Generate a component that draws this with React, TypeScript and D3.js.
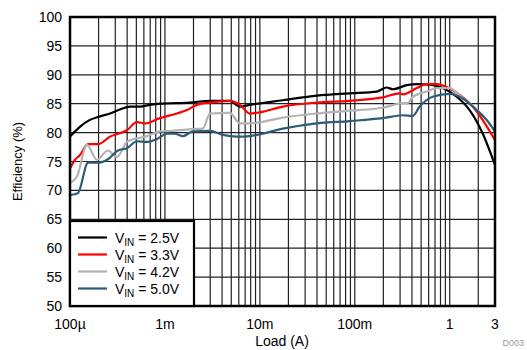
import React from "react";
import * as d3 from "d3";

const load25 = [1e-4, 1.27e-4, 1.62e-4, 2.07e-4, 2.64e-4, 3.36e-4, 4.28e-4, 5.46e-4, 6.95e-4, 8.86e-4, 1.83e-3, 2.98e-3, 4.83e-3, 6.16e-3, 7.85e-3, 1.75e-2, 3.98e-2, 8.86e-2, 0.171, 0.217, 0.251, 0.352, 0.45, 0.616, 0.843, 1.185, 1.62, 2.22, 3.0];
const eff25 = [79.3, 81.0, 82.2, 82.8, 83.3, 84.0, 84.5, 84.5, 84.8, 85.0, 85.2, 85.5, 85.5, 84.5, 84.8, 85.6, 86.4, 86.8, 87.1, 87.8, 87.5, 88.2, 88.4, 88.3, 87.7, 86.2, 83.9, 79.9, 74.4];

const load33 = [1e-4, 1.129e-4, 1.27e-4, 1.55e-4, 1.97e-4, 2.64e-4, 3.98e-4, 5.07e-4, 6.16e-4, 8.86e-4, 1.34e-3, 1.71e-3, 2.17e-3, 2.98e-3, 4.83e-3, 6.16e-3, 7.85e-3, 1e-2, 1.75e-2, 3.98e-2, 8.86e-2, 0.197, 0.298, 0.32, 0.45, 0.573, 0.729, 0.929, 1.274, 1.75, 2.22, 3.0];
const eff33 = [73.8, 75.3, 76.1, 78.0, 78.0, 79.3, 80.4, 81.8, 81.6, 82.5, 83.3, 83.9, 84.8, 85.2, 85.5, 84.8, 83.3, 83.5, 84.5, 85.2, 85.5, 86.1, 86.8, 86.6, 87.7, 88.4, 88.4, 87.9, 86.5, 84.5, 82.2, 78.7];

const load42 = [1e-4, 1.185e-4, 1.51e-4, 1.92e-4, 2.51e-4, 3.12e-4, 3.98e-4, 5.07e-4, 6.46e-4, 8.86e-4, 1.21e-3, 1.97e-3, 2.51e-3, 2.98e-3, 4.83e-3, 6.16e-3, 7.85e-3, 1.75e-2, 3.98e-2, 8.86e-2, 0.197, 0.32, 0.361, 0.408, 0.573, 0.729, 1.0, 1.274, 1.75, 2.22, 3.0];
const eff42 = [71.3, 72.4, 77.9, 75.3, 76.9, 75.8, 78.4, 79.0, 79.4, 80.2, 80.3, 80.6, 80.7, 83.3, 83.4, 81.6, 81.6, 82.6, 83.3, 83.8, 84.3, 85.1, 85.1, 86.2, 87.1, 87.7, 87.7, 86.4, 84.6, 83.0, 80.2];

const load50 = [1e-4, 1.21e-4, 1.55e-4, 1.97e-4, 2.51e-4, 3.2e-4, 3.98e-4, 5.07e-4, 6.46e-4, 8.24e-4, 1.05e-3, 1.27e-3, 1.55e-3, 1.97e-3, 2.98e-3, 4.08e-3, 5.73e-3, 7.85e-3, 1.75e-2, 3.98e-2, 8.86e-2, 0.197, 0.32, 0.408, 0.483, 0.662, 1.0, 1.37, 1.92, 2.45, 3.0];
const eff50 = [69.2, 69.5, 74.8, 74.8, 75.4, 76.9, 77.3, 78.5, 78.4, 78.9, 79.8, 79.8, 79.4, 80.2, 80.3, 79.6, 79.3, 79.4, 80.7, 81.6, 82.0, 82.5, 83.0, 82.9, 84.5, 86.2, 86.7, 85.9, 83.9, 82.2, 80.2];

const seriesNames = ["2.5V", "3.3V", "4.2V", "5.0V"];
const seriesColors = ["#000000", "#ff0000", "#b3b3b3", "#2b5c78"];
const seriesLoads = [load25, load33, load42, load50];
const seriesEffs = [eff25, eff33, eff42, eff50];

const xTickValues = [1e-4, 1e-3, 1e-2, 1e-1, 1, 3];
const xTickLabels = ["100\u00b5", "1m", "10m", "100m", "1", "3"];
const yTickValues = [50, 55, 60, 65, 70, 75, 80, 85, 90, 95, 100];

const W = 527, H = 350;
const L = 70, R = 495, T = 17, B = 306;
const font = "'Liberation Sans', Arial, Helvetica, sans-serif";

export default function App() {
  const x = d3.scaleLog().domain([1e-4, 3]).range([L, R]);
  const y = d3.scaleLinear().domain([50, 100]).range([B, T]);

  const vgrid: number[] = [];
  for (let dec = -4; dec <= 0; dec++) {
    for (let m = 1; m <= 9; m++) {
      const v = m * Math.pow(10, dec);
      if (v <= 3 + 1e-9) vgrid.push(v);
    }
  }

  const line = d3
    .line<[number, number]>()
    .x((d) => x(d[0]))
    .y((d) => y(d[1]))
    .curve(d3.curveMonotoneX);

  const legendX = L, legendY = 221, legendW = 124, legendH = B - 221;

  return (
    <svg width={W} height={H} style={{ position: "absolute", left: 0, top: 0, background: "#fff" }} fontFamily={font}>
      <rect x={0} y={0} width={W} height={H} fill="#fff" />
      {vgrid.map((v, i) => (
        <line key={"v" + i} x1={x(v)} x2={x(v)} y1={T} y2={B} stroke="#222" strokeWidth={1.2} />
      ))}
      {yTickValues.map((v, i) => (
        <line key={"h" + i} x1={L} x2={R} y1={y(v)} y2={y(v)} stroke="#222" strokeWidth={1.2} />
      ))}
      {seriesLoads.map((ls, si) => (
        <path
          key={"s" + si}
          d={line(ls.map((l, i) => [l, seriesEffs[si][i]] as [number, number])) || ""}
          fill="none"
          stroke={seriesColors[si]}
          strokeWidth={2.2}
          strokeLinejoin="round"
        />
      ))}
      <rect x={L} y={T} width={R - L} height={B - T} fill="none" stroke="#000" strokeWidth={2.5} />
      <rect x={legendX} y={legendY} width={legendW} height={legendH} fill="#fff" stroke="#000" strokeWidth={2.2} />
      {seriesNames.map((n, i) => {
        const ly = 237.5 + i * 17;
        return (
          <g key={"lg" + i}>
            <line x1={78} x2={107} y1={ly} y2={ly} stroke={seriesColors[i]} strokeWidth={2.2} />
            <text x={115} y={ly + 5} fontSize={14} fill="#000">
              V<tspan fontSize={10} dy={3}>IN</tspan>
              <tspan dy={-3}>{" = " + n}</tspan>
            </text>
          </g>
        );
      })}
      {yTickValues.map((v, i) => (
        <text key={"yt" + i} x={62} y={y(v) + 5} fontSize={14} textAnchor="end" fill="#000">
          {v}
        </text>
      ))}
      {xTickValues.map((v, i) => (
        <text key={"xt" + i} x={x(v)} y={329} fontSize={14} textAnchor="middle" fill="#000">
          {xTickLabels[i]}
        </text>
      ))}
      <text x={282} y={346} fontSize={14} textAnchor="middle" fill="#000">Load (A)</text>
      <text transform={`translate(22,${(T + B) / 2}) rotate(-90)`} fontSize={13} textAnchor="middle" fill="#000">
        Efficiency (%)
      </text>
      <text x={524} y={346} fontSize={9} textAnchor="end" fill="#999">D003</text>
    </svg>
  );
}
